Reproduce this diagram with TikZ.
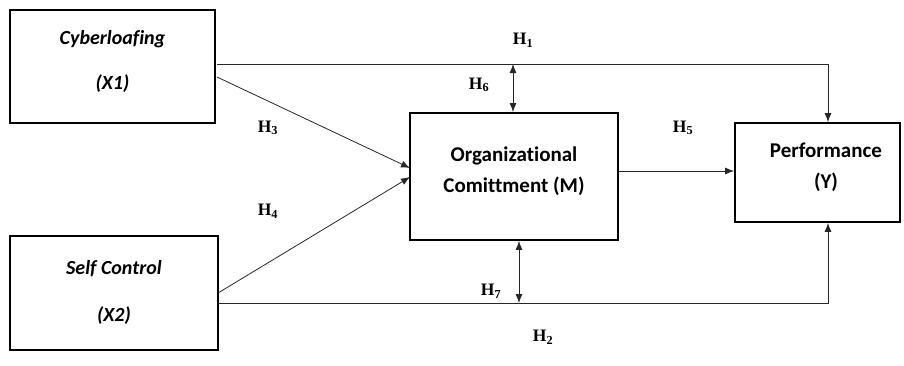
\documentclass[tikz,border=0pt]{standalone}
\usepackage{fontspec}
\setmainfont[Ligatures=NoCommon]{Carlito}
\newfontfamily\hfont{Liberation Serif}
\usetikzlibrary{arrows.meta}
\begin{document}
\begin{tikzpicture}[x=1pt,y=-1pt,
  box/.style={draw, line width=1.8pt, inner sep=0pt},
  conn/.style={line width=0.8pt, draw=black!85},
  arr/.style={conn, -{Latex[length=9pt,width=7pt]}},
  darr/.style={conn, {Latex[length=9pt,width=7pt]}-{Latex[length=9pt,width=7pt]}},
  hlab/.style={font=\hfont\bfseries\fontsize{17.5}{20}\selectfont},
  itxt/.style={font=\bfseries\itshape\fontsize{20}{24}\selectfont},
  btxt/.style={align=center, font=\bfseries\fontsize{21}{31}\selectfont}]
\useasboundingbox (0,0) rectangle (904,365);
\node[box, minimum width=205pt, minimum height=113pt] (x1) at (112.5,66.5) {};
\node[itxt] (x1a) at (112.5,39) {Cyberloafing};
\node[itxt] (x1b) at (112.5,84) {(X1)};
\node[box, minimum width=208pt, minimum height=114pt] (x2) at (114,293) {};
\node[itxt] (x2a) at (114,269) {Self Control};
\node[itxt] (x2b) at (114,316) {(X2)};
\node[box, minimum width=208pt, minimum height=127pt] (m) at (514,176.5) {};
\node[btxt] (mt) at (514,171) {Organizational\\Comittment (M)};
\node[box, minimum width=165pt, minimum height=99pt] (y) at (817.5,172.5) {};
\node[btxt] (yt) at (826,167) {Performance\\(Y)};
% coordinates
\coordinate (a1) at (217,64);
\coordinate (c1) at (828,64);
\coordinate (a2) at (218,303);
\coordinate (c2) at (828,303);
\coordinate (x1r) at (217,77);
\coordinate (mtl) at (410,168);
\coordinate (x2r) at (218,293);
\coordinate (mbl) at (410,177);
\coordinate (h6top) at (513,64);
\coordinate (h7bot) at (519,303);
% connectors
\draw[arr] (a1) -- (c1) -- (c1 |- y.north);
\draw[arr] (a2) -- (c2) -- (c2 |- y.south);
\draw[arr] (x1r) -- (mtl);
\draw[arr] (x2r) -- (mbl);
\draw[arr] (m.east |- 0,171) -- (y.west |- 0,171);
\draw[darr] (h6top) -- (h6top |- m.north);
\draw[darr] (h7bot |- m.south) -- (h7bot);
% labels
\node[hlab] (h1) at (523,40) {H\textsubscript{1}};
\node[hlab] (h2) at (543,337) {H\textsubscript{2}};
\node[hlab] (h3) at (268,128) {H\textsubscript{3}};
\node[hlab] (h4) at (268,211) {H\textsubscript{4}};
\node[hlab] (h5) at (683,128) {H\textsubscript{5}};
\node[hlab] (h6) at (479,85) {H\textsubscript{6}};
\node[hlab] (h7) at (491,291) {H\textsubscript{7}};
\end{tikzpicture}
\end{document}
